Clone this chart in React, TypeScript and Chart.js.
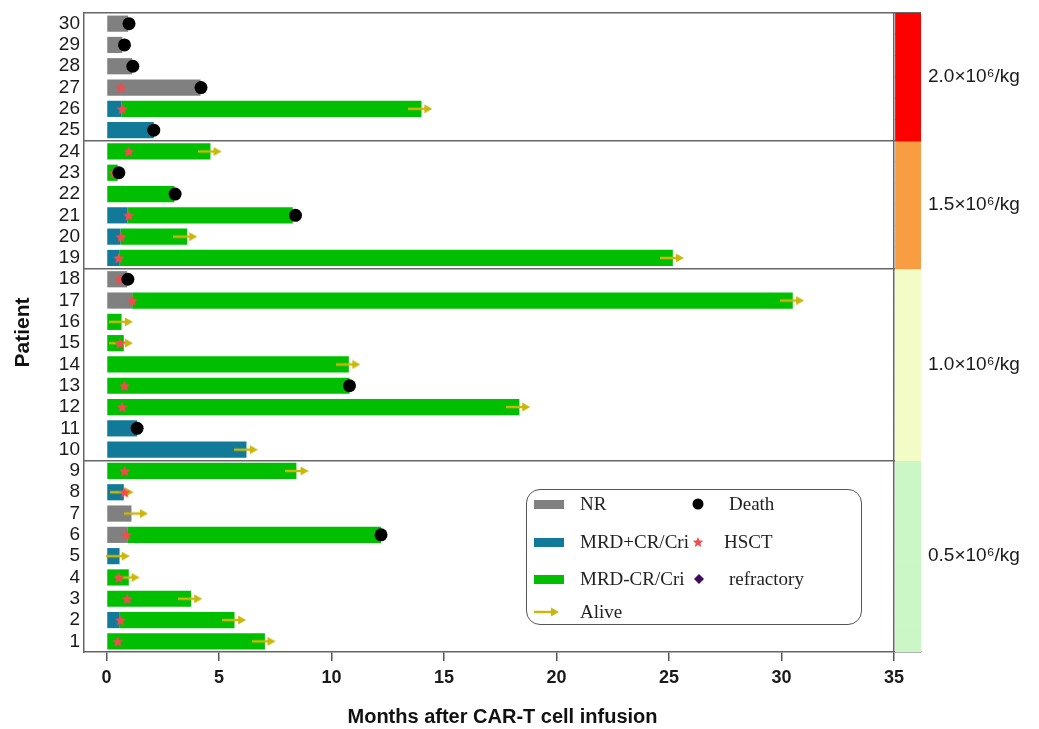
import React, { useEffect, useRef } from 'react';
import { Chart, registerables } from 'chart.js';

Chart.register(...registerables);

// ---------- data ----------
const patients = [1, 2, 3, 4, 5, 6, 7, 8, 9, 10, 11, 12, 13, 14, 15, 16, 17, 18, 19, 20, 21, 22, 23, 24, 25, 26, 27, 28, 29, 30];

// end of NR (grey) phase, months
const nrEnd = [null, null, null, null, null, 0.92, 1.11, null, null, null, null, null, null, null, null, null, 1.14, 0.92, null, null, null, null, null, null, null, null, 4.18, 1.14, 0.7, 0.96];
// end of MRD+CR/Cri (blue) phase
const mrdPosEnd = [null, 0.59, null, null, 0.58, null, null, 0.77, null, 6.22, 1.36, null, null, null, null, null, null, null, 0.59, 0.62, 0.92, null, null, null, 2.1, 0.67, null, null, null, null];
// end of MRD-CR/Cri (green) phase
const mrdNegEnd = [7.04, 5.69, 3.76, 0.99, null, 12.2, null, null, 8.44, null, null, 18.35, 10.8, 10.77, 0.77, 0.67, 30.5, null, 25.17, 3.59, 8.28, 3.02, 0.5, 4.62, null, 14.0, null, null, null, null];

const deathAt = [null, null, null, null, null, 12.2, null, null, null, null, 1.36, null, 10.8, null, null, null, null, 0.95, null, null, 8.4, 3.05, 0.55, null, 2.1, null, 4.2, 1.17, 0.8, 1.0];
const hsctAt = [0.5, 0.62, 0.92, 0.55, null, 0.89, null, 0.81, 0.81, null, null, 0.7, 0.8, null, 0.59, null, 1.14, 0.59, 0.55, 0.65, 0.99, null, 0.33, 0.99, null, 0.7, 0.65, null, null, null];
const aliveAt = [6.98, 5.67, 3.72, 0.94, 0.5, null, 1.31, 0.67, 8.45, 6.19, null, 18.3, null, 10.75, 0.64, 0.64, 30.47, null, 25.13, 3.5, null, null, null, 4.58, null, 13.95, null, null, null, null];

const xTicks = [0, 5, 10, 15, 20, 25, 30, 35];
const groupDividers = [9.5, 18.5, 24.5, 30.5];

const doseLabels = ['0.5×10⁶/kg', '1.0×10⁶/kg', '1.5×10⁶/kg', '2.0×10⁶/kg'];
const doseFirst = [1, 10, 19, 25];
const doseLast = [9, 18, 24, 30];
const doseColors = ['#cbf6c6', '#f3fcc6', '#f89d42', '#ff0000'];
const doseBarFrom = 35.05;
const doseBarTo = 36.2;

// ---------- styles ----------
const C_NR = '#808080';
const C_POS = '#117a99';
const C_NEG = '#00bf00';
const C_ARROW = '#c9b70a';
const C_STAR = '#f24c4c';
const C_DIAMOND = '#3e0b60';
const SANS = "'Liberation Sans', Arial, Helvetica, sans-serif";
const SERIF = "'Liberation Serif', 'Times New Roman', serif";

function makeStar(size: number, color: string) {
  const c = document.createElement('canvas');
  c.width = size;
  c.height = size;
  const g = c.getContext('2d')!;
  const R = size / 2;
  const r = R * 0.45;
  g.beginPath();
  for (let i = 0; i < 10; i++) {
    const rad = i % 2 === 0 ? R : r;
    const a = -Math.PI / 2 + (i * Math.PI) / 5;
    const px = R + rad * Math.cos(a);
    const py = R + 0.6 + rad * Math.sin(a);
    if (i === 0) g.moveTo(px, py);
    else g.lineTo(px, py);
  }
  g.closePath();
  g.fillStyle = color;
  g.fill();
  return c;
}

function makeArrow(color: string) {
  const c = document.createElement('canvas');
  c.width = 24;
  c.height = 10;
  const g = c.getContext('2d')!;
  g.strokeStyle = color;
  g.lineWidth = 2.5;
  g.beginPath();
  g.moveTo(0, 5);
  g.lineTo(18, 5);
  g.stroke();
  g.fillStyle = color;
  g.beginPath();
  g.moveTo(16, 0.5);
  g.lineTo(24, 5);
  g.lineTo(16, 9.5);
  g.closePath();
  g.fill();
  return c;
}

function starPoints(cx: number, cy: number, R: number) {
  const r = R * 0.45;
  const pts: string[] = [];
  for (let i = 0; i < 10; i++) {
    const rad = i % 2 === 0 ? R : r;
    const a = -Math.PI / 2 + (i * Math.PI) / 5;
    pts.push(`${(cx + rad * Math.cos(a)).toFixed(2)},${(cy + rad * Math.sin(a)).toFixed(2)}`);
  }
  return pts.join(' ');
}

export default function App() {
  const ref = useRef<HTMLCanvasElement | null>(null);

  useEffect(() => {
    if (!ref.current) return;

    const nrData = patients.flatMap((p, i) => (nrEnd[i] == null ? [] : [{ y: p, x: [0, nrEnd[i] as number] }]));
    const posData = patients.flatMap((p, i) => (mrdPosEnd[i] == null ? [] : [{ y: p, x: [0, mrdPosEnd[i] as number] }]));
    const negData = patients.flatMap((p, i) =>
      mrdNegEnd[i] == null ? [] : [{ y: p, x: [(nrEnd[i] ?? mrdPosEnd[i] ?? 0) as number, mrdNegEnd[i] as number] }]
    );
    const deathData = patients.flatMap((p, i) => (deathAt[i] == null ? [] : [{ x: deathAt[i] as number, y: p }]));
    const hsctData = patients.flatMap((p, i) => (hsctAt[i] == null ? [] : [{ x: hsctAt[i] as number, y: p }]));
    const aliveData = patients.flatMap((p, i) => (aliveAt[i] == null ? [] : [{ x: aliveAt[i] as number, y: p }]));
    const doseData = patients.map((p) => ({ y: p, x: [doseBarFrom, doseBarTo] }));
    const doseBarColors = patients.map((p) => {
      const g = doseFirst.findIndex((f, k) => p >= f && p <= doseLast[k]);
      return doseColors[g];
    });
    const doseCenters = doseFirst.map((f, k) => (f + doseLast[k]) / 2);

    const starImg = makeStar(12, C_STAR);
    const arrowImg = makeArrow(C_ARROW);

    const barCommon = {
      type: 'bar' as const,
      indexAxis: 'y' as const,
      xAxisID: 'x',
      yAxisID: 'y',
      grouped: false,
      borderWidth: 0,
      borderSkipped: false,
      categoryPercentage: 1,
      barPercentage: 0.76,
    };

    const vAxis = (extra: any) => ({
      type: 'linear',
      min: 0.5,
      max: 30.5,
      offset: false,
      beginAtZero: false,
      ...extra,
    });

    const chart = new Chart(ref.current, {
      type: 'bar',
      data: {
        datasets: [
          {
            type: 'scatter',
            label: 'Death',
            data: deathData,
            xAxisID: 'x',
            yAxisID: 'y',
            pointStyle: 'circle',
            pointRadius: 6.5,
            pointBackgroundColor: '#000',
            pointBorderWidth: 0,
            order: 0,
          } as any,
          {
            type: 'scatter',
            label: 'HSCT',
            data: hsctData,
            xAxisID: 'x',
            yAxisID: 'y',
            pointStyle: starImg,
            pointRadius: 6,
            order: 1,
          } as any,
          {
            type: 'scatter',
            label: 'Alive',
            data: aliveData,
            xAxisID: 'x',
            yAxisID: 'y',
            pointStyle: arrowImg,
            pointRadius: 6,
            order: 2,
          } as any,
          { ...barCommon, label: 'NR', data: nrData, backgroundColor: C_NR, order: 5 } as any,
          { ...barCommon, label: 'MRD+CR/Cri', data: posData, backgroundColor: C_POS, order: 5 } as any,
          { ...barCommon, label: 'MRD-CR/Cri', data: negData, backgroundColor: C_NEG, order: 5 } as any,
          {
            ...barCommon,
            label: 'Dose',
            data: doseData,
            backgroundColor: doseBarColors,
            barPercentage: 1.06,
            order: 6,
          } as any,
        ],
      },
      options: {
        responsive: false,
        animation: false,
        events: [],
        layout: { padding: { top: 13, left: 0, right: 0, bottom: 0 } },
        plugins: {
          legend: { display: false },
          tooltip: { enabled: false },
          title: { display: false },
        },
        scales: {
          y: vAxis({
            position: 'left',
            afterBuildTicks: (s: any) => {
              s.ticks = patients.map((v) => ({ value: v }));
            },
            afterFit: (s: any) => {
              s.width = 84;
              s.paddingTop = 0;
              s.paddingBottom = 0;
            },
            grid: { display: false, drawTicks: false, offset: false },
            border: { display: true, color: '#666', width: 1.5 },
            ticks: {
              autoSkip: false,
              padding: 4,
              color: '#1a1a1a',
              font: { family: SANS, size: 19 },
              callback: (v: any) => String(v),
            },
            title: {
              display: true,
              text: 'Patient',
              color: '#111',
              font: { family: SANS, size: 21, weight: 'bold' },
              padding: { top: 11, bottom: 0 },
            },
          }),
          y2: vAxis({
            position: 'left',
            afterBuildTicks: (s: any) => {
              s.ticks = groupDividers.map((v) => ({ value: v }));
            },
            afterFit: (s: any) => {
              s.width = 0;
              s.paddingTop = 0;
              s.paddingBottom = 0;
            },
            grid: { display: true, drawTicks: false, offset: false, color: '#666', lineWidth: 1.5 },
            border: { display: false },
            ticks: { display: false },
          }),
          y3: vAxis({
            position: 'right',
            afterBuildTicks: (s: any) => {
              s.ticks = doseCenters.map((v) => ({ value: v }));
            },
            afterFit: (s: any) => {
              s.width = 118;
              s.paddingTop = 0;
              s.paddingBottom = 0;
            },
            grid: { display: false, drawTicks: false, offset: false },
            border: { display: false },
            ticks: {
              autoSkip: false,
              padding: 7,
              color: '#1a1a1a',
              font: { family: SANS, size: 19 },
              callback: (v: any) => {
                const k = doseCenters.indexOf(Number(v));
                return k >= 0 ? doseLabels[k] : '';
              },
            },
          }),
          x: {
            type: 'linear',
            position: 'bottom',
            min: -1,
            max: doseBarTo,
            offset: false,
            beginAtZero: false,
            afterBuildTicks: (s: any) => {
              s.ticks = xTicks.map((v) => ({ value: v }));
            },
            afterFit: (s: any) => {
              s.height = 77;
              s.paddingLeft = 0;
              s.paddingRight = 0;
            },
            grid: {
              display: true,
              offset: false,
              drawTicks: true,
              tickLength: 9,
              tickColor: '#555',
              tickWidth: 1.5,
              lineWidth: 1.5,
              color: (ctx: any) => (ctx.tick && ctx.tick.value === 35 ? '#666' : 'rgba(0,0,0,0)'),
            },
            border: { display: true, color: '#666', width: 1.5 },
            ticks: {
              autoSkip: false,
              maxRotation: 0,
              padding: 6,
              color: '#1a1a1a',
              font: { family: SANS, size: 18, weight: 'bold' },
              callback: (v: any) => String(v),
            },
            title: {
              display: true,
              text: 'Months after CAR-T cell infusion',
              color: '#111',
              font: { family: SANS, size: 20, weight: 'bold' },
              padding: { top: 0, bottom: 0 },
            },
          },
        },
      } as any,
    });

    return () => chart.destroy();
  }, []);

  const legendText: React.CSSProperties = {
    position: 'absolute',
    fontFamily: SERIF,
    fontSize: 19,
    color: '#222',
    lineHeight: '22px',
    whiteSpace: 'nowrap',
  };
  const rows = [14, 52, 89, 122];
  const swatch = (color: string, top: number): React.CSSProperties => ({
    position: 'absolute',
    left: 7,
    top: top - 4.5,
    width: 30,
    height: 9,
    background: color,
  });

  return (
    <div style={{ position: 'absolute', left: 0, top: 0, width: 1039, height: 729, background: '#fff' }}>
      <canvas ref={ref} width={1039} height={729} style={{ display: 'block' }} />
      <div
        style={{
          position: 'absolute',
          left: 526,
          top: 489,
          width: 334,
          height: 134,
          border: '1.5px solid #555',
          borderRadius: 14,
          background: '#fff',
        }}
      >
        <div style={swatch(C_NR, rows[0])} />
        <div style={{ ...legendText, left: 53, top: rows[0] - 11 }}>NR</div>
        <div style={swatch(C_POS, rows[1])} />
        <div style={{ ...legendText, left: 53, top: rows[1] - 11 }}>MRD+CR/Cri</div>
        <div style={swatch(C_NEG, rows[2])} />
        <div style={{ ...legendText, left: 53, top: rows[2] - 11 }}>MRD-CR/Cri</div>
        <svg style={{ position: 'absolute', left: 7, top: rows[3] - 6 }} width={26} height={12}>
          <line x1={0} y1={6} x2={19} y2={6} stroke={C_ARROW} strokeWidth={2.5} />
          <polygon points="17,1.5 25,6 17,10.5" fill={C_ARROW} />
        </svg>
        <div style={{ ...legendText, left: 53, top: rows[3] - 11 }}>Alive</div>

        <svg style={{ position: 'absolute', left: 163, top: rows[0] - 8 }} width={16} height={16}>
          <circle cx={8} cy={8} r={5.5} fill="#000" />
        </svg>
        <div style={{ ...legendText, left: 202, top: rows[0] - 11 }}>Death</div>
        <svg style={{ position: 'absolute', left: 163, top: rows[1] - 8 }} width={16} height={16}>
          <polygon points={starPoints(8, 8.5, 5.5)} fill={C_STAR} />
        </svg>
        <div style={{ ...legendText, left: 197, top: rows[1] - 11 }}>HSCT</div>
        <svg style={{ position: 'absolute', left: 164, top: rows[2] - 8 }} width={16} height={16}>
          <polygon points="8,3 13,8 8,13 3,8" fill={C_DIAMOND} />
        </svg>
        <div style={{ ...legendText, left: 202, top: rows[2] - 11 }}>refractory</div>
      </div>
    </div>
  );
}
